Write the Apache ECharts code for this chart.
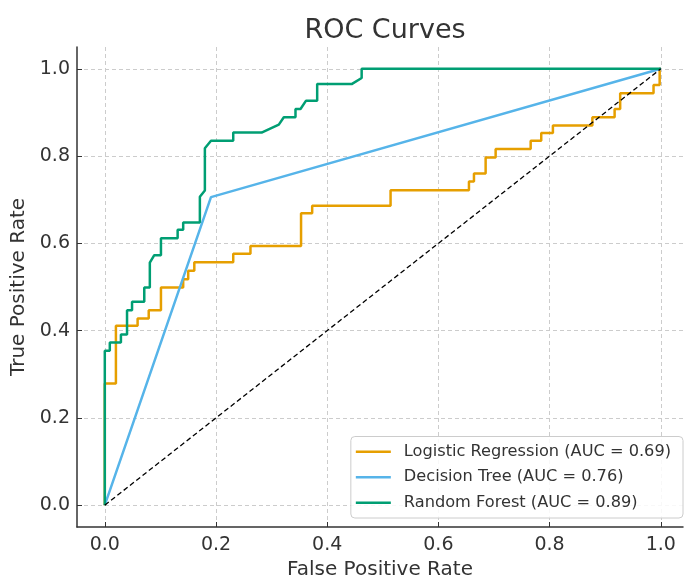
<!DOCTYPE html>
<html>
<head>
<meta charset="utf-8">
<title>ROC Curves</title>
<script src="https://cdn.jsdelivr.net/npm/echarts@6/dist/echarts.min.js"></script>
<style>
  html, body { margin: 0; padding: 0; background: #fff; }
  #chart { width: 684px; height: 575px; }
</style>
</head>
<body>
<div id="chart"></div>
<script>
// tick labels shared by both axes
const ticks = [0, 0.2, 0.4, 0.6, 0.8, 1.0];

const modelNames = ["Logistic Regression", "Decision Tree", "Random Forest"];
const aucs = [0.69, 0.76, 0.89];

// logistic regression roc points
const lrFpr = [0, 0, 0.020, 0.020, 0.059, 0.059, 0.079, 0.079, 0.101, 0.101, 0.141, 0.141,
  0.150, 0.150, 0.161, 0.161, 0.231, 0.231, 0.262, 0.262, 0.353, 0.353, 0.373, 0.373,
  0.514, 0.514, 0.655, 0.655, 0.664, 0.664, 0.685, 0.685, 0.703, 0.703, 0.766, 0.766,
  0.785, 0.785, 0.806, 0.806, 0.877, 0.877, 0.917, 0.917, 0.927, 0.927, 0.987, 0.987,
  0.998, 0.998, 1];
const lrTpr = [0, 0.279, 0.279, 0.411, 0.411, 0.428, 0.428, 0.447, 0.447, 0.499, 0.499, 0.518,
  0.518, 0.537, 0.537, 0.557, 0.557, 0.576, 0.576, 0.594, 0.594, 0.669, 0.669, 0.686,
  0.686, 0.722, 0.722, 0.742, 0.742, 0.760, 0.760, 0.797, 0.797, 0.816, 0.816, 0.835,
  0.835, 0.853, 0.853, 0.870, 0.870, 0.889, 0.889, 0.908, 0.908, 0.944, 0.944, 0.963,
  0.963, 1, 1];

// decision tree
const dtFpr = [0, 0.191, 1];
const dtTpr = [0, 0.706, 1];

// random forest
const rfFpr = [0, 0, 0.009, 0.009, 0.029, 0.029, 0.040, 0.040, 0.049, 0.049, 0.071, 0.071,
  0.081, 0.081, 0.089, 0.101, 0.101, 0.131, 0.131, 0.141, 0.141, 0.171, 0.171, 0.180,
  0.180, 0.191, 0.231, 0.231, 0.282, 0.313, 0.322, 0.343, 0.343, 0.352, 0.362, 0.382,
  0.382, 0.444, 0.462, 0.462, 1];
const rfTpr = [0, 0.354, 0.354, 0.373, 0.373, 0.391, 0.391, 0.447, 0.447, 0.466, 0.466, 0.499,
  0.499, 0.556, 0.573, 0.573, 0.612, 0.612, 0.631, 0.631, 0.648, 0.648, 0.707, 0.721,
  0.818, 0.835, 0.835, 0.854, 0.854, 0.872, 0.889, 0.889, 0.908, 0.908, 0.927, 0.927,
  0.965, 0.965, 0.979, 1, 1];

// chance line
const chanceX = [0, 1];
const chanceY = [0, 1];

const colors = ["#E69F00", "#56B4E9", "#009E73"];

function zip(xs, ys) {
  return xs.map((x, i) => [x, ys[i]]);
}

const labels = modelNames.map((n, i) => n + " (AUC = " + aucs[i].toFixed(2) + ")");
const curves = [zip(lrFpr, lrTpr), zip(dtFpr, dtTpr), zip(rfFpr, rfTpr)];

const font = "DejaVu Sans";
const textColor = "#333";

function axisCommon(name) {
  return {
    type: "value",
    min: -0.05,
    name: name,
    nameLocation: "middle",
    nameTextStyle: { fontFamily: font, fontSize: 20, color: textColor },
    axisLine: { show: true, onZero: false, lineStyle: { color: "#333", width: 1.5 } },
    axisTick: {
      show: true, inside: true, length: 5, customValues: ticks,
      lineStyle: { color: "#333", width: 1 }
    },
    axisLabel: {
      customValues: ticks,
      fontFamily: font, fontSize: 19, color: textColor,
      formatter: v => v.toFixed(1)
    },
    splitLine: {
      show: true,
      lineStyle: { color: "#ccc", type: [4, 3], width: 1 }
    }
  };
}

const chart = echarts.init(document.getElementById("chart"), null, { renderer: "canvas" });

const xAxis = axisCommon("False Positive Rate");
xAxis.max = 1.04;
xAxis.nameGap = 32;
xAxis.axisLabel.margin = 9;

const yAxis = axisCommon("True Positive Rate");
yAxis.max = 1.05;
yAxis.nameGap = 44;
yAxis.axisLabel.margin = 7;

const series = labels.map((name, i) => ({
  name: name,
  type: "line",
  data: curves[i],
  symbol: "none",
  showSymbol: false,
  lineStyle: { color: colors[i], width: 2.5 },
  itemStyle: { color: colors[i] },
  animation: false
}));
series.push({
  name: "chance",
  type: "line",
  data: zip(chanceX, chanceY),
  symbol: "none",
  lineStyle: { color: "#000", width: 1.3, type: [5, 3] },
  animation: false,
  silent: true
});

chart.setOption({
  animation: false,
  title: {
    text: "ROC Curves",
    left: 380,
    textAlign: "center",
    top: 12,
    textStyle: { fontFamily: font, fontSize: 27, fontWeight: "normal", color: textColor }
  },
  grid: { left: 77, right: 1, top: 47, bottom: 48, containLabel: false, outerBoundsMode: "none" },
  xAxis: xAxis,
  yAxis: yAxis,
  legend: {
    data: labels,
    orient: "vertical",
    right: 1,
    bottom: 57,
    icon: "rect",
    itemWidth: 35,
    itemHeight: 2.5,
    itemGap: 7,
    padding: [6, 12, 6, 5],
    borderColor: "#ccc",
    borderWidth: 1,
    borderRadius: 4,
    backgroundColor: "rgba(255,255,255,0.85)",
    textStyle: { fontFamily: font, fontSize: 16.2, lineHeight: 18.5, color: textColor, padding: [0, 0, 0, 8] }
  },
  series: series
});
</script>
</body>
</html>
